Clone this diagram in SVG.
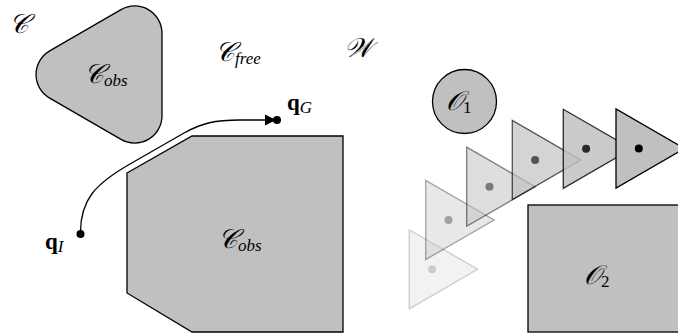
<svg xmlns="http://www.w3.org/2000/svg" width="678" height="333" viewBox="0 0 678 333">
<style>
.obs{fill:#c0c0c0;stroke:#000;stroke-width:1.3;stroke-linejoin:miter}
.cal{font-family:"DejaVu Serif","Liberation Serif",serif;font-style:italic;font-size:27px;fill:#000}
.sub{font-family:"Liberation Serif",serif;font-style:italic;font-weight:normal;font-size:17px}
.subr{font-family:"Liberation Serif",serif;font-style:normal;font-size:17px}
.bq{font-family:"Liberation Serif",serif;font-weight:bold;font-size:23px;fill:#000}
.tri{fill:#c0c0c0;stroke:#000;stroke-width:1.3;stroke-linejoin:miter}
.path{fill:none;stroke:#000;stroke-width:1.3}
</style>
<rect width="678" height="333" fill="#fff"/>
<text class="cal" x="9" y="33">𝒞</text>
<text class="cal" x="215" y="61">𝒞<tspan class="sub" dy="3">free</tspan></text>
<text class="cal" x="344" y="57">𝒲</text>
<g id="cobs1">
<path class="obs" d="M 49.7 50.85 L 121 9.65 A 27.3 27.3 0 0 1 162 33.3 L 162 115.7 A 27.3 27.3 0 0 1 121 139.35 L 49.7 98.15 A 27.3 27.3 0 0 1 49.7 50.85 Z"/>
<text class="cal" x="84" y="83">𝒞<tspan class="sub" dy="3">obs</tspan></text>
</g>
<g id="cobs2">
<path class="obs" d="M127 173 L192 136 L343 136 L343 332 L192 332 L127 293 Z"/>
<text class="cal" x="218" y="248">𝒞<tspan class="sub" dy="3">obs</tspan></text>
</g>
<g id="qI">
<circle cx="80.5" cy="234" r="4" fill="#000"/>
<text class="bq" x="45" y="249">q<tspan class="sub" dy="3">I</tspan></text>
</g>
<g id="qG">
<circle cx="277" cy="120" r="4" fill="#000"/>
<text class="bq" x="287" y="110">q<tspan class="sub" dy="3">G</tspan></text>
</g>
<g id="connectors">
<path class="path" d="M80.5 234 C80 200 95 184 130 164 L184 133 C202 123 215 120 240 120 L272 120"/>
<path d="M265 114.5 L276 120 L265 125.5 Z" fill="#000"/>
</g>
<g id="o1">
<circle cx="464.5" cy="101.5" r="32" class="obs"/>
<text class="cal" x="446" y="110">𝒪<tspan class="subr" dy="3">1</tspan></text>
</g>
<g id="o2">
<rect class="obs" x="528" y="205" width="160" height="127"/>
<text class="cal" x="584" y="284">𝒪<tspan class="subr" dy="3">2</tspan></text>
</g>
<g id="t6" opacity="0.2"><path class="tri" d="M409.3 229.8 L409.3 308.8 L477.7 269.3 Z"/><circle cx="432.1" cy="269.3" r="4" fill="#000"/></g>
<g id="t5" opacity="0.36"><path class="tri" d="M425.7 180.5 L425.7 259.5 L494.1 220 Z"/><circle cx="448.5" cy="220" r="4" fill="#000"/></g>
<g id="t4" opacity="0.52"><path class="tri" d="M466.7 147.2 L466.7 226.2 L535.1 186.7 Z"/><circle cx="489.5" cy="186.7" r="4" fill="#000"/></g>
<g id="t3" opacity="0.68"><path class="tri" d="M512.3 120.5 L512.3 199.5 L580.7 160 Z"/><circle cx="535.1" cy="160" r="4" fill="#000"/></g>
<g id="t2" opacity="0.84"><path class="tri" d="M563.3 109.3 L563.3 188.3 L631.7 148.8 Z"/><circle cx="586.1" cy="148.8" r="4" fill="#000"/></g>
<g id="t1"><path class="tri" d="M616 109 L616 188 L684.4 148.5 Z"/><circle cx="638.8" cy="148.5" r="4" fill="#000"/></g>
</svg>
